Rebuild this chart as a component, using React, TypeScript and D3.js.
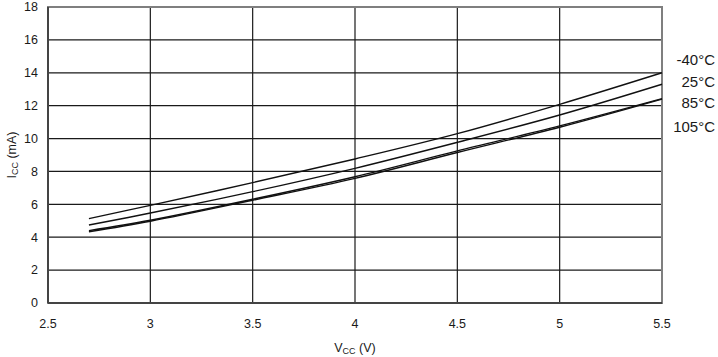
import React from "react";
import * as d3 from "d3";

const vcc = [2.7, 3, 3.5, 4, 4.5, 5, 5.5];
const iccM40 = [5.13, 5.94, 7.32, 8.76, 10.3, 12.08, 14.0];
const icc25 = [4.74, 5.47, 6.77, 8.19, 9.77, 11.43, 13.3];
const icc85 = [4.4, 5.03, 6.31, 7.68, 9.25, 10.77, 12.43];
const icc105 = [4.33, 4.97, 6.25, 7.58, 9.15, 10.69, 12.4];
const seriesLabels = ["-40°C", "25°C", "85°C", "105°C"];
const xTicks = [2.5, 3, 3.5, 4, 4.5, 5, 5.5];
const yTicks = [0, 2, 4, 6, 8, 10, 12, 14, 16, 18];

const W = 718;
const H = 357;
const left = 48;
const right = 662;
const top = 7;
const bottom = 303;

export default function App() {
  const x = d3.scaleLinear().domain([2.5, 5.5]).range([left, right]);
  const y = d3.scaleLinear().domain([0, 18]).range([bottom, top]);
  const series = [iccM40, icc25, icc85, icc105];
  const line = d3
    .line<[number, number]>()
    .x((d) => x(d[0]))
    .y((d) => y(d[1]))
    .curve(d3.curveCatmullRom.alpha(0.5));
  const font = "'Liberation Sans', Arial, sans-serif";
  const labelY = [60, 82, 103, 127];
  return (
    <svg
      width={W}
      height={H}
      style={{ position: "absolute", left: 0, top: 0, background: "#fff" }}
      fontFamily={font}
    >
      {yTicks.slice(1, -1).map((t) => (
        <line key={"h" + t} x1={left} x2={right} y1={y(t)} y2={y(t)} stroke="#1a1a1a" strokeWidth={1.2} />
      ))}
      {xTicks.slice(1, -1).map((t) => (
        <line key={"v" + t} x1={x(t)} x2={x(t)} y1={top} y2={bottom} stroke="#1a1a1a" strokeWidth={1.2} />
      ))}
      <rect x={left} y={top} width={right - left} height={bottom - top} fill="none" stroke="#7f7f7f" strokeWidth={2} />
      <line x1={left} x2={left} y1={top} y2={bottom} stroke="#444" strokeWidth={2} />
      <line x1={left} x2={right} y1={bottom} y2={bottom} stroke="#444" strokeWidth={2} />
      {series.map((s, i) => (
        <path
          key={i}
          d={line(vcc.map((v, j) => [v, s[j]] as [number, number])) || ""}
          fill="none"
          stroke="#111"
          strokeWidth={1.4}
        />
      ))}
      {yTicks.map((t) => (
        <text key={"yl" + t} x={38} y={y(t)} dy="0.35em" textAnchor="end" fontSize={12.5} fill="#1a1a1a">
          {t}
        </text>
      ))}
      {xTicks.map((t) => (
        <text key={"xl" + t} x={x(t)} y={324} dy="0.35em" textAnchor="middle" fontSize={12.5} fill="#1a1a1a">
          {t}
        </text>
      ))}
      <text x={355} y={348} dy="0.35em" textAnchor="middle" fontSize={12.5} fill="#1a1a1a">
        V<tspan fontSize={9} dy="2">CC</tspan>
        <tspan dy="-2"> (V)</tspan>
      </text>
      <text
        transform={`translate(12,${(top + bottom) / 2}) rotate(-90)`}
        textAnchor="middle"
        dy="0.35em"
        fontSize={12.5}
        fill="#1a1a1a"
      >
        I<tspan fontSize={9} dy="2">CC</tspan>
        <tspan dy="-2"> (mA)</tspan>
      </text>
      {seriesLabels.map((l, i) => (
        <text key={l} x={715} y={labelY[i]} dy="0.35em" textAnchor="end" fontSize={15} fill="#1a1a1a">
          {l}
        </text>
      ))}
    </svg>
  );
}
